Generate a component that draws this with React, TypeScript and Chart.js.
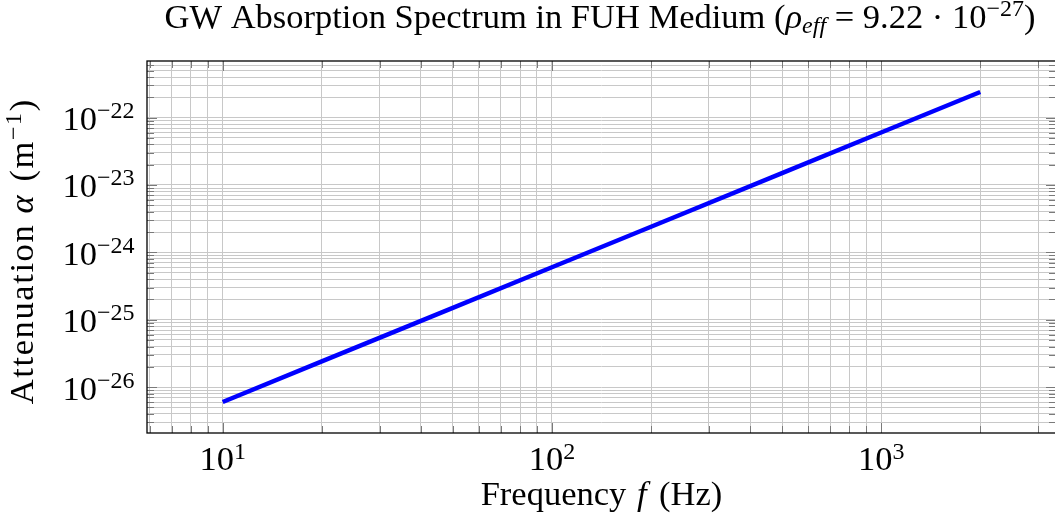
import React, { useEffect, useRef } from 'react';
import { Chart, registerables } from 'chart.js';

Chart.register(...registerables);

// ---- data ----
const FREQ_HZ = [10, 20, 50, 100, 200, 500, 1000, 2000];
const ALPHA_PER_M = [6.0e-27, 2.4e-26, 1.5e-25, 6.0e-25, 2.4e-24, 1.5e-23, 6.0e-23, 2.4e-22];

// ---- axes ----
const X_RANGE = [5.89, 3397];
const Y_RANGE = [2.08e-27, 6.92e-22];
const X_MAJOR = [10, 100, 1000];
const X_EXP = ['1', '2', '3'];
const Y_MAJOR = [1e-26, 1e-25, 1e-24, 1e-23, 1e-22];
const Y_EXP = ['−26', '−25', '−24', '−23', '−22'];
const X_DECADES = [1, 10, 100, 1000];
const Y_DECADES = [1e-27, 1e-26, 1e-25, 1e-24, 1e-23, 1e-22];
const MANTISSAS = [1, 2, 3, 4, 5, 6, 7, 8, 9];

const FONT = '"Liberation Serif", "Times New Roman", serif';
const BIG = 34.5;
const SMALL = 24;

type Seg = { t: string; size: number; italic?: boolean; dy?: number; pad?: number };

function gridValues(decades: number[], range: number[]) {
  const out: number[] = [];
  decades.forEach((d) => MANTISSAS.forEach((m) => {
    const v = m * d;
    if (v >= range[0] && v <= range[1]) out.push(v);
  }));
  return out;
}

function isDecade(v: number) {
  const l = Math.log10(v);
  return Math.abs(l - Math.round(l)) < 1e-9;
}

function fontOf(s: Seg) {
  return `${s.italic ? 'italic ' : ''}${s.size}px ${FONT}`;
}

function drawRich(ctx: CanvasRenderingContext2D, segs: Seg[], x: number, y: number, align: 'left' | 'center' | 'right', ls = 0) {
  const pieces: { ch: string; s: Seg; w: number }[] = [];
  let total = 0;
  segs.forEach((s) => {
    ctx.font = fontOf(s);
    if (ls === 0) {
      const w = ctx.measureText(s.t).width + (s.pad || 0);
      pieces.push({ ch: s.t, s, w });
      total += w;
    } else {
      Array.from(s.t).forEach((ch) => {
        const w = ctx.measureText(ch).width + ls;
        pieces.push({ ch, s, w });
        total += w;
      });
      if (s.pad) pieces[pieces.length - 1].w += s.pad;
      total += s.pad || 0;
    }
  });
  if (ls !== 0) total -= ls;
  let cx = align === 'left' ? x : align === 'center' ? x - total / 2 : x - total;
  ctx.textAlign = 'left';
  ctx.textBaseline = 'alphabetic';
  pieces.forEach((p) => {
    ctx.font = fontOf(p.s);
    ctx.fillText(p.ch, cx, y + (p.s.dy || 0));
    cx += p.w;
  });
}

const framePlugin = {
  id: 'frameTicks',
  beforeDatasetsDraw(chart: any) {
    const { ctx, chartArea: a } = chart;
    const xs = chart.scales.x;
    const ys = chart.scales.y;
    ctx.save();
    ctx.strokeStyle = '#7a7a7a';
    ctx.lineWidth = 1;
    ctx.beginPath();
    xs.ticks.forEach((t: any) => {
      const px = Math.round(xs.getPixelForValue(t.value)) + 0.5;
      const len = isDecade(t.value) ? 10 : 7;
      ctx.moveTo(px, a.bottom); ctx.lineTo(px, a.bottom - len);
      ctx.moveTo(px, a.top); ctx.lineTo(px, a.top + len);
    });
    ys.ticks.forEach((t: any) => {
      const py = Math.round(ys.getPixelForValue(t.value)) + 0.5;
      const len = isDecade(t.value) ? 10 : 7;
      ctx.moveTo(a.left, py); ctx.lineTo(a.left + len, py);
      ctx.moveTo(a.right, py); ctx.lineTo(a.right - len, py);
    });
    ctx.stroke();
    ctx.strokeStyle = '#000';
    ctx.lineWidth = 1.3;
    ctx.strokeRect(a.left, a.top, a.right - a.left, a.bottom - a.top);
    ctx.restore();
  },
  afterDraw(chart: any) {
    const { ctx, chartArea: a } = chart;
    const xs = chart.scales.x;
    const ys = chart.scales.y;
    ctx.save();
    ctx.fillStyle = '#000';
    const cxPlot = (a.left + a.right) / 2;

    // title
    drawRich(ctx, [
      { t: 'GW Absorption Spectrum in FUH Medium (', size: BIG },
      { t: 'ρ', size: BIG, italic: true },
      { t: 'eff', size: SMALL, italic: true, dy: 5 },
      { t: ' = 9.22 · 10', size: BIG },
      { t: '−27', size: SMALL, dy: -12 },
      { t: ')', size: BIG },
    ], 600, 28, 'center');

    // x tick labels
    X_MAJOR.forEach((v, i) => {
      const px = xs.getPixelForValue(v);
      drawRich(ctx, [
        { t: '10', size: BIG },
        { t: X_EXP[i], size: SMALL, dy: -11 },
      ], px, 470, 'center');
    });

    // y tick labels
    Y_MAJOR.forEach((v, i) => {
      const py = ys.getPixelForValue(v);
      drawRich(ctx, [
        { t: '10', size: BIG },
        { t: Y_EXP[i], size: SMALL, dy: -12 },
      ], a.left - 12.5, py + 12.5, 'right');
    });

    // x axis title
    drawRich(ctx, [
      { t: 'Frequency ', size: BIG, pad: 2 },
      { t: 'f', size: BIG, italic: true, pad: 4 },
      { t: ' (Hz)', size: BIG },
    ], cxPlot, 505, 'center');

    // y axis title
    ctx.translate(33, 252);
    ctx.rotate(-Math.PI / 2);
    drawRich(ctx, [
      { t: 'Attenuation ', size: BIG },
      { t: 'α', size: BIG, italic: true, pad: 2 },
      { t: ' (m', size: BIG },
      { t: '−1', size: SMALL, dy: -12 },
      { t: ')', size: BIG },
    ], 0, 0, 'center', 1.6);
    ctx.restore();
  },
};

export default function App() {
  const ref = useRef<HTMLCanvasElement | null>(null);

  useEffect(() => {
    let chart: Chart | null = null;
    let cancelled = false;
    const xGrid = gridValues(X_DECADES, X_RANGE);
    const yGrid = gridValues(Y_DECADES, Y_RANGE);

    const make = () => {
      if (cancelled || !ref.current) return;
      chart = new Chart(ref.current, {
        type: 'line',
        data: {
          datasets: [{
            data: FREQ_HZ.map((f, i) => ({ x: f, y: ALPHA_PER_M[i] })),
            borderColor: '#0000ff',
            backgroundColor: '#0000ff',
            borderWidth: 4.5,
            pointRadius: 0,
            tension: 0,
            fill: false,
          }],
        },
        options: {
          animation: false,
          responsive: false,
          maintainAspectRatio: false,
          devicePixelRatio: 1,
          events: [],
          layout: { padding: { left: 147, top: 61, right: 4, bottom: 93 } },
          plugins: { legend: { display: false }, tooltip: { enabled: false }, title: { display: false } },
          scales: {
            x: {
              type: 'logarithmic',
              bounds: 'data',
              min: X_RANGE[0],
              max: X_RANGE[1],
              afterBuildTicks: (s: any) => { s.ticks = xGrid.map((v) => ({ value: v, major: isDecade(v) })); },
              ticks: { display: false, autoSkip: false },
              grid: { color: '#c8c8c8', lineWidth: 1, drawTicks: false },
              border: { display: false },
            },
            y: {
              type: 'logarithmic',
              bounds: 'data',
              min: Y_RANGE[0],
              max: Y_RANGE[1],
              afterBuildTicks: (s: any) => { s.ticks = yGrid.map((v) => ({ value: v, major: isDecade(v) })); },
              ticks: { display: false, autoSkip: false },
              grid: { color: '#c8c8c8', lineWidth: 1, drawTicks: false },
              border: { display: false },
            },
          },
        } as any,
        plugins: [framePlugin],
      });
    };

    const fonts = (document as any).fonts;
    if (fonts && fonts.load) {
      Promise.all([
        fonts.load(`${BIG}px ${FONT}`),
        fonts.load(`italic ${BIG}px ${FONT}`),
      ]).then(make, make);
    } else {
      make();
    }

    return () => {
      cancelled = true;
      if (chart) chart.destroy();
    };
  }, []);

  return (
    <div style={{ position: 'fixed', left: 0, top: 0, width: 1055, height: 526, overflow: 'hidden', background: '#fff' }}>
      <canvas ref={ref} width={1060} height={526} style={{ display: 'block' }} />
    </div>
  );
}
